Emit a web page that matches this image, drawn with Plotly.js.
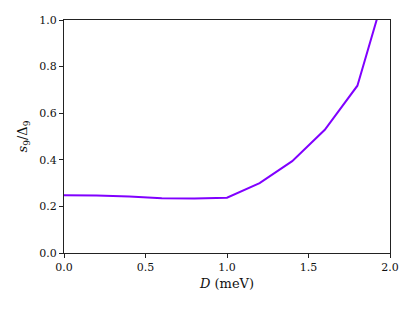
<!DOCTYPE html>
<html>
<head>
<meta charset="utf-8">
<script src="https://cdn.plot.ly/plotly-3.0.1.min.js"></script>
<style>html,body{margin:0;padding:0;background:#fff;}#chart{width:415px;height:312px;}</style>
</head>
<body>
<div id="chart"></div>
<script>
const D_meV = [0.0, 0.2, 0.4, 0.6, 0.8, 1.0, 1.2, 1.4, 1.6, 1.8, 2.0];
const s9_over_Delta9 = [0.248, 0.247, 0.242, 0.235, 0.234, 0.237, 0.300, 0.394, 0.529, 0.718, 1.196];
const xTicks = [0.0, 0.5, 1.0, 1.5, 2.0];
const yTicks = [0.0, 0.2, 0.4, 0.6, 0.8, 1.0];

const font = {family: 'DejaVu Serif, Liberation Serif, serif', size: 11, color: '#111'};
const titleFont = {family: 'DejaVu Serif, Liberation Serif, serif', size: 13, color: '#111'};
const axisCommon = {
  showgrid: false, zeroline: false, showline: true, linecolor: '#222', linewidth: 1.1,
  mirror: true, ticks: 'outside', ticklen: 4, tickwidth: 1, tickcolor: '#222',
  tickfont: font
};
Plotly.newPlot('chart', [{
  x: D_meV, y: s9_over_Delta9, mode: 'lines', type: 'scatter',
  line: {color: '#8000ff', width: 2}, hoverinfo: 'skip'
}], {
  width: 415, height: 312,
  margin: {l: 64, r: 25, t: 20, b: 59},
  paper_bgcolor: '#fff', plot_bgcolor: '#fff',
  showlegend: false,
  font: font,
  xaxis: Object.assign({}, axisCommon, {
    range: [0, 2], tickvals: xTicks, ticktext: xTicks.map(v => v.toFixed(1)),
    title: {text: '<i>D</i> (meV)', font: titleFont, standoff: 5}
  }),
  yaxis: Object.assign({}, axisCommon, {
    range: [0, 1], tickvals: yTicks, ticktext: yTicks.map(v => v.toFixed(1)),
    title: {text: '<i>s</i><sub>9</sub>/Δ<sub>9</sub>', font: titleFont, standoff: 8}
  })
}, {staticPlot: true, displayModeBar: false});
</script>
</body>
</html>
